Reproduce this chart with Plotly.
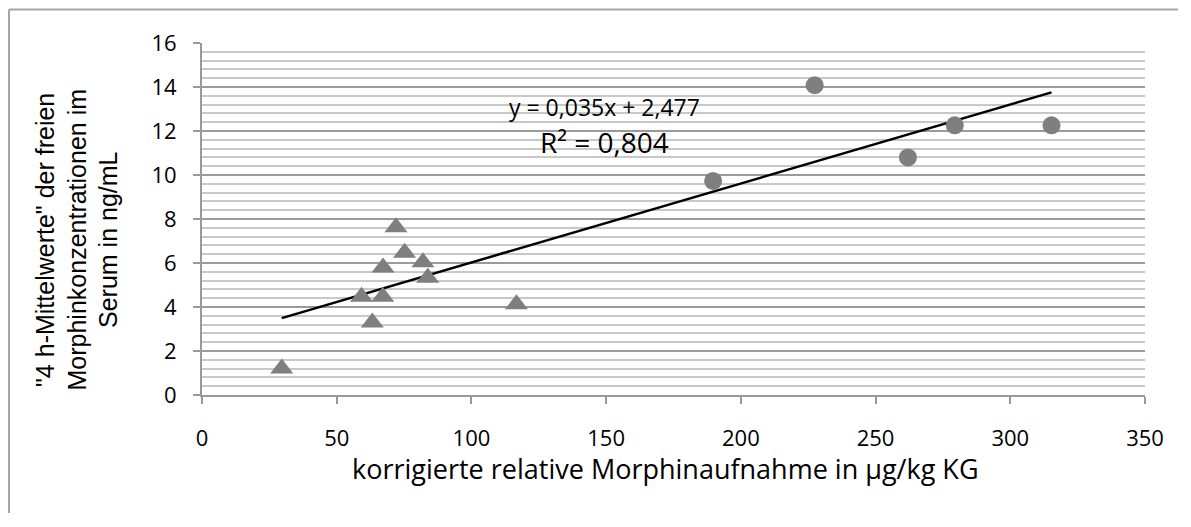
import numpy as np
import plotly.graph_objects as go

# Data
tri_x = [29.6, 59.2, 63.2, 67.1, 67.2, 72.0, 75.2, 82.0, 83.8, 116.7]
tri_y = [1.21, 4.47, 3.30, 4.47, 5.79, 7.62, 6.47, 6.03, 5.33, 4.12]
circ_x = [189.7, 227.4, 262.0, 279.4, 315.3]
circ_y = [9.73, 14.08, 10.80, 12.26, 12.26]

x_ticks = [0, 50, 100, 150, 200, 250, 300, 350]
y_ticks = [0, 2, 4, 6, 8, 10, 12, 14, 16]

eq_text = "y = 0,035x + 2,477"
r2_text = "R² = 0,804"
x_title = "korrigierte relative Morphinaufnahme in µg/kg KG"
y_title_lines = ["\"4 h-Mittelwerte\" der freien",
                 "Morphinkonzentrationen im",
                 "Serum in ng/mL"]

# Linear trend line fitted on all points
all_x = np.array(tri_x + circ_x)
all_y = np.array(tri_y + circ_y)
slope, intercept = np.polyfit(all_x, all_y, 1)
trend_x = np.array([all_x.min(), all_x.max()])
trend_y = slope * trend_x + intercept

MARK = "#7f7f7f"
TICKFONT = dict(family="Open Sans", size=22, color="#000000")

fig = go.Figure()
fig.add_trace(go.Scatter(x=trend_x, y=trend_y, mode="lines",
                         line=dict(color="#000000", width=2.5), showlegend=False,
                         hoverinfo="skip"))
fig.add_trace(go.Scatter(x=tri_x, y=tri_y, mode="markers",
                         marker=dict(symbol="triangle-up", size=20, color=MARK),
                         showlegend=False))
fig.add_trace(go.Scatter(x=circ_x, y=circ_y, mode="markers",
                         marker=dict(symbol="circle", size=18, color=MARK),
                         showlegend=False))

# page has an 8px body margin; keep the figure well inside the window
W, H = 1170, 505
fig.update_layout(
    width=W, height=H,
    margin=dict(l=194, r=W + 8 - 1145, t=35, b=H - 35 - 352),
    paper_bgcolor="#ffffff", plot_bgcolor="#ffffff",
    showlegend=False,
    xaxis=dict(range=[0, 350], tickvals=x_ticks, showgrid=False, zeroline=False,
               showline=True, linecolor="#999999", linewidth=2,
               ticks="outside", ticklen=7, tickwidth=2, tickcolor="#999999",
               tickfont=TICKFONT, ticklabelstandoff=16),
    yaxis=dict(range=[0, 16], tickvals=y_ticks, showgrid=True, gridcolor="#9a9a9a",
               gridwidth=2, zeroline=False,
               showline=True, linecolor="#999999", linewidth=2,
               ticks="outside", ticklen=7, tickwidth=2, tickcolor="#999999",
               tickfont=TICKFONT, ticklabelstandoff=12,
               minor=dict(dtick=0.4, showgrid=True, gridcolor="#c8c8c8", gridwidth=2,
                          ticks="")),
)

fig.add_annotation(x=149.5, y=13.1, xref="x", yref="y", text=eq_text, showarrow=False,
                   font=dict(family="Open Sans", size=23, color="#000000"),
                   xanchor="center", yanchor="middle")
fig.add_annotation(x=149.5, y=11.5, xref="x", yref="y", text=r2_text, showarrow=False,
                   font=dict(family="Open Sans", size=28, color="#000000"),
                   xanchor="center", yanchor="middle")
fig.add_annotation(x=0.492, y=-0.2074, xref="paper", yref="paper", text=x_title,
                   showarrow=False, font=dict(family="Open Sans", size=27, color="#000000"),
                   xanchor="center", yanchor="middle")
# y-axis title: three rotated lines, page x centres ~45, 76.5, 108
for i, line in enumerate(y_title_lines):
    px = 45 + 31.5 * i
    fig.add_annotation(x=(px - 202) / 943, y=(395 - 240) / 352, xref="paper", yref="paper",
                       text=line, showarrow=False, textangle=-90,
                       font=dict(family="Liberation Sans", size=25, color="#000000"),
                       xanchor="center", yanchor="middle")

# Outer chart frame: only top and left edges are visible in the reference
fx0 = (9 - 202) / 943
fx1 = (W + 8 - 202) / 943
fy0 = (395 - (H + 8)) / 352
fy1 = (395 - 9.5) / 352
frame = dict(color="#a6a6a6", width=2)
fig.add_shape(type="line", xref="paper", yref="paper", x0=fx0, x1=fx1, y0=fy1, y1=fy1,
              line=frame, layer="below")
fig.add_shape(type="line", xref="paper", yref="paper", x0=fx0, x1=fx0, y0=fy0, y1=fy1,
              line=frame, layer="below")

fig.write_html("out.html")
